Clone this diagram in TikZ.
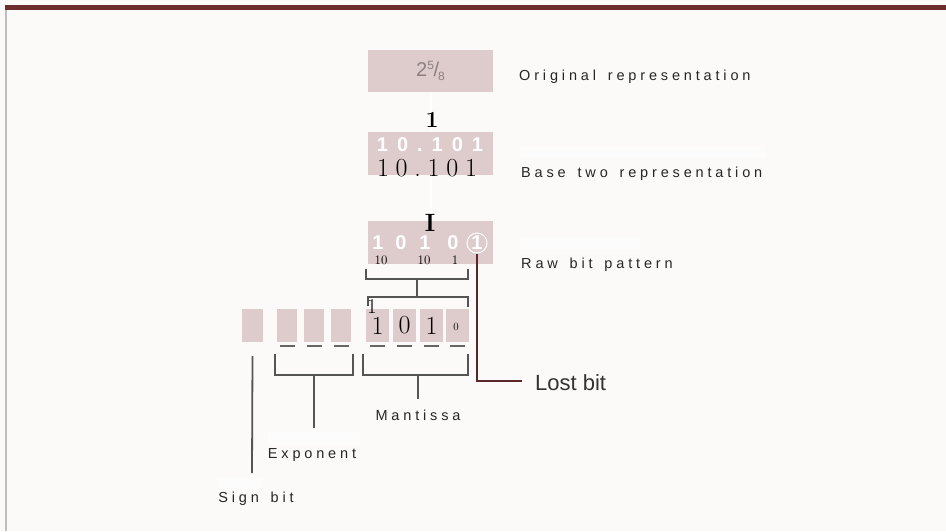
\documentclass[tikz,border=0pt]{standalone}
\usepackage{fontspec}
\newfontfamily\hel{Liberation Sans}
\newfontfamily\labf[LetterSpace=26.5,WordSpace=1.5]{Liberation Sans}
\newfontfamily\lmsp[LetterSpace=26]{Latin Modern Roman}
\definecolor{bgc}{RGB}{252,249,249}
\definecolor{boxpink}{RGB}{222,203,203}
\definecolor{topbar}{RGB}{110,45,45}
\definecolor{edgec}{RGB}{190,190,190}
\definecolor{brk}{RGB}{85,85,85}
\definecolor{lostc}{RGB}{90,40,40}
\definecolor{numgray}{RGB}{140,128,128}
\tikzset{
  pbox/.style={fill=boxpink, draw=none, inner sep=0pt},
  lab/.style={anchor=base west, inner sep=0pt, text=black!85, font=\labf\fontsize{14.5}{14.5}\selectfont},
  whitedig/.style={text=white, inner sep=0pt, font=\hel\bfseries\fontsize{20}{20}\selectfont},
  ocr/.style={text=black, inner sep=0pt},
  brline/.style={draw=brk, line width=1.8pt},
  bitdash/.style={draw=brk!90, line width=2.5pt},
  wpatch/.style={fill=white, fill opacity=0.6, draw=none}
}
\begin{document}
\begin{tikzpicture}[x=1pt,y=-1pt]
\useasboundingbox (0,0) rectangle (946,531);
\fill[bgc] (0,0) rectangle (946,531);
\fill[topbar] (5,5) rectangle (946,10);
\draw[edgec, line width=1.5pt] (6,10) -- (6,531);

% faint white patches
\fill[wpatch] (520,147) rectangle (765,158);
\fill[wpatch] (520,238) rectangle (640,249);
\fill[wpatch] (268,432) rectangle (360,445);
\fill[wpatch] (218,478) rectangle (262,490);

% boxes
\node[pbox, minimum width=125pt, minimum height=42pt] (orig) at (430.5,71)
  {\color{numgray}\hel\fontsize{20}{20}\selectfont 2\raisebox{7pt}{\fontsize{12}{12}\selectfont 5}\kern-0.5pt/\kern-1pt\raisebox{-4pt}{\fontsize{12}{12}\selectfont 8}};
\node[pbox, minimum width=125pt, minimum height=43pt] (base) at (430.5,153.5) {};
\node[pbox, minimum width=125pt, minimum height=43pt] (raw) at (430.5,242.5) {};

% white connectors
\draw[white, line width=2pt] (orig.south) -- (base.north);
\draw[white, line width=2pt] (base.south) -- (raw.north);

% white text in box 2
\node[whitedig] (bw) at (430,145) {1\hspace{9pt}0\hspace{9pt}.\hspace{9pt}1\hspace{9pt}0\hspace{9pt}1};
% white digits in box 3
\node[whitedig] (r1) at (378,243) {1};
\node[whitedig] (r2) at (401,243) {0};
\node[whitedig] (r3) at (425,243) {1};
\node[whitedig] (r4) at (453,243) {0};
\node[whitedig, circle, draw=white, line width=1pt, minimum size=20pt] (r5) at (477,243) {1};

% black overlay text
\node[ocr, font=\bfseries\fontsize{23}{23}\selectfont] (a1) at (432,120) {1};
\node[ocr, font=\lmsp\fontsize{26}{26}\selectfont] (bb) at (427,168) {10.101};
\node[ocr, font=\bfseries\fontsize{25}{25}\selectfont] (a2) at (430,223) {I};
\node[ocr, font=\fontsize{13}{13}\selectfont] (t1) at (381,260) {10};
\node[ocr, font=\fontsize{13}{13}\selectfont] (t2) at (424,260) {10};
\node[ocr, font=\fontsize{13}{13}\selectfont] (t3) at (455,260) {1};

% labels
\node[lab] (l1) at (519,80) {Original representation};
\node[lab] (l2) at (521,177) {Base two representation};
\node[lab] (l3) at (521,268) {Raw bit pattern};

% bit row
\foreach \n/\x/\w in {s/252.5/21, e1/287/20, e2/314/20, e3/341/20, m1/377.5/23, m2/404.5/23, m3/431.5/23, m4/457.5/23}
  \node[pbox, minimum width=\w pt, minimum height=33pt] (\n) at (\x,325.5) {};
\foreach \n in {e1,e2,e3,m1,m2,m3,m4}
  \draw[bitdash] ([xshift=-7.5pt,yshift=-4pt]\n.south) -- ([xshift=7.5pt,yshift=-4pt]\n.south);

% black overlay digits in bit row
\node[ocr, font=\fontsize{26}{26}\selectfont] at (m1) {1};
\node[ocr, font=\fontsize{26}{26}\selectfont] at (m2) {0};
\node[ocr, font=\fontsize{26}{26}\selectfont] at (m3) {1};
\node[ocr, font=\fontsize{11}{11}\selectfont] at (456,327) {0};

% bracket under raw pattern
\coordinate (bl) at (366,269);
\coordinate (br) at (468,269);
\draw[brline] (bl) -- (366,279) -- (468,279) -- (br);
\draw[brline] (417,279) -- (417,297);
\draw[brline] (368,306) -- (368,297) -- (468,297) -- (468,307);
\node[ocr, font=\fontsize{21}{21}\selectfont] at (372,307) {1};

% brackets below bit row
\draw[brline] (275,354) -- (275,375) -- (353,375) -- (353,354);
\draw[brline] (363,354) -- (363,375) -- (468,375) -- (468,354);
\coordinate (expend) at (314,428);
\coordinate (manend) at (418,399);
\coordinate (signend) at (252,473);
\draw[brline] (314,375) -- (expend);
\draw[brline] (418,375) -- (manend);
\draw[brline] ([yshift=-14pt]s.south) -- (signend);

\node[lab, anchor=center] (mant) at (418,415) {Mantissa};
\node[lab, anchor=center] (expo) at (312,455) {Exponent};
\node[lab, anchor=center] (sign) at (256,499) {Sign bit};

% lost bit
\coordinate (lostcorner) at (477,381);
\coordinate (lostend) at (522,381);
\draw[lostc, line width=1.8pt] (r5.south) -- (lostcorner) -- (lostend);
\node[anchor=base west, inner sep=0pt, text=black!80, font=\hel\fontsize{22}{22}\selectfont] (lost) at (535,390) {Lost bit};
\end{tikzpicture}
\end{document}
